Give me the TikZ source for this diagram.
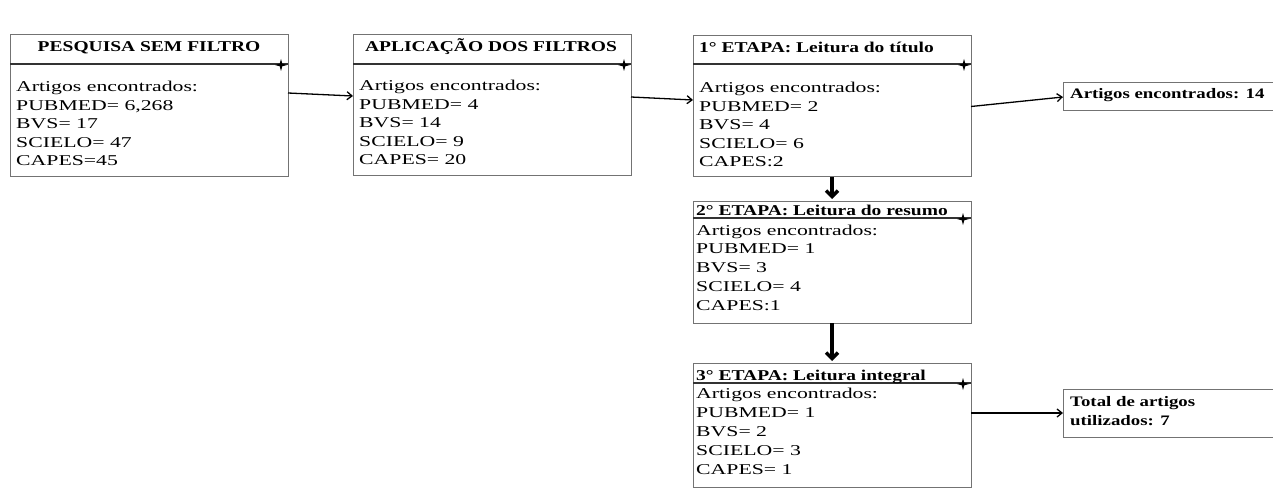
\documentclass[tikz,border=0pt]{standalone}
\usepackage{fontspec}
\setmainfont{Liberation Serif}
\newfontfamily\bodyfont{Liberation Serif}[FakeStretch=1.45]
\newfontfamily\headfont{Liberation Serif}[FakeStretch=1.3]
\usetikzlibrary{arrows.meta,calc}
\tikzset{
  box/.style={rectangle, draw=black!55, line width=1pt, inner sep=0pt, outer sep=0pt},
  hline/.style={black!80, line width=1.3pt},
  bodytxt/.style={anchor=base west, inner sep=0pt, font=\bodyfont\fontsize{15}{18}\selectfont},
  headtxt/.style={anchor=base west, inner sep=0pt, font=\headfont\bfseries\fontsize{15}{18}\selectfont},
  sidetxt/.style={anchor=base west, inner sep=0pt, align=left, font=\headfont\bfseries\fontsize{14.5}{19}\selectfont},
  thin arrow/.style={black, line width=1.3pt, -{Straight Barb[length=5pt,width=8pt]}},
  thick arrow/.style={black, line width=3.5pt, -{Straight Barb[length=6pt,width=12pt]}},
  star4/.pic={\fill[black] (-6,0)--(-1.3,-1.3)--(0,-6)--(1.3,-1.3)--(6,0)--(1.3,1.3)--(0,6)--(-1.3,1.3)--cycle;}
}
\newcommand\bodylines[5]{%
  \foreach \tx [count=\i from 0] in {#5} {\node[bodytxt] (#1l\i) at (#2,{#3+#4*\i}) {\tx};}}
\begin{document}
\begin{tikzpicture}[x=1pt,y=-1pt]
\useasboundingbox[fill=white] (0,0) rectangle (1273,489);
\clip (0,0) rectangle (1273,489);
% boxes
\node[box, minimum width=278pt, minimum height=142pt] (b1) at (149,106) {};
\node[box, minimum width=278pt, minimum height=141pt] (b2) at (492,105.5) {};
\node[box, minimum width=278pt, minimum height=141pt] (b3) at (832,106.5) {};
\node[box, minimum width=278pt, minimum height=122pt] (b4) at (832,262) {};
\node[box, minimum width=278pt, minimum height=124pt] (b5) at (832,425) {};
\node[box, minimum width=217pt, minimum height=28pt] (r1) at (1171.5,97) {};
\node[box, minimum width=217pt, minimum height=48pt] (r2) at (1171.5,413) {};
% header separators
\draw[hline] ($(b1.north west)+(0,29)$) -- ($(b1.north east)+(0,29)$);
\draw[hline] ($(b2.north west)+(0,29)$) -- ($(b2.north east)+(0,29)$);
\draw[hline] ($(b3.north west)+(0,28)$) -- ($(b3.north east)+(0,28)$);
\draw[hline] ($(b4.north west)+(0,17)$) -- ($(b4.north east)+(0,17)$);
\draw[hline] ($(b5.north west)+(0,20)$) -- ($(b5.north east)+(0,20)$);
\pic at ($(b1.north east)+(-7,30)$) {star4};
\pic at ($(b2.north east)+(-7,30)$) {star4};
\pic at ($(b3.north east)+(-7,29)$) {star4};
\pic at ($(b4.north east)+(-8,18)$) {star4};
\pic at ($(b5.north east)+(-8,21)$) {star4};
% headers
\node[headtxt, anchor=base] (b1h) at (149,52) {PESQUISA SEM FILTRO};
\node[headtxt, anchor=base] (b2h) at (491,52) {APLICAÇÃO DOS FILTROS};
\node[headtxt] (b3h) at (699,53) {1° ETAPA: Leitura do título};
\node[headtxt] (b4h) at (696,215) {2° ETAPA: Leitura do resumo};
\node[headtxt] (b5h) at (696,380) {3° ETAPA: Leitura integral};
% bodies
\bodylines{b1}{16}{92}{18.4}{Artigos encontrados:,{PUBMED= 6,268},BVS= 17,SCIELO= 47,CAPES=45}
\bodylines{b2}{359}{91}{18.4}{Artigos encontrados:,PUBMED= 4,BVS= 14,SCIELO= 9,CAPES= 20}
\bodylines{b3}{699}{93}{18.5}{Artigos encontrados:,PUBMED= 2,BVS= 4,SCIELO= 6,CAPES:2}
\bodylines{b4}{696}{235}{18.8}{Artigos encontrados:,PUBMED= 1,BVS= 3,SCIELO= 4,CAPES:1}
\bodylines{b5}{696}{398}{19.2}{Artigos encontrados:,PUBMED= 1,BVS= 2,SCIELO= 3,CAPES= 1}
% side boxes text
\node[sidetxt] (r1t) at (1070,99) {Artigos encontrados: 14};
\node[sidetxt] (r2t) at (1070,406) {Total de artigos};
\node[sidetxt] (r2u) at (1070,425) {utilizados: 7};
% connectors
\draw[thin arrow] ($(b1.east)+(0,-13)$) -- ($(b2.west)+(0,-9.5)$);
\draw[thin arrow] ($(b2.east)+(0,-8.5)$) -- ($(b3.west)+(0,-6.5)$);
\draw[thin arrow] (b3.east) -- (r1.west);
\draw[thin arrow] ($(b5.east)+(0,-12)$) -- (r2.west);
\draw[thick arrow, shorten >=2pt] (b3.south) -- (b4.north);
\draw[thick arrow, shorten >=2pt] (b4.south) -- (b5.north);
\end{tikzpicture}
\end{document}
